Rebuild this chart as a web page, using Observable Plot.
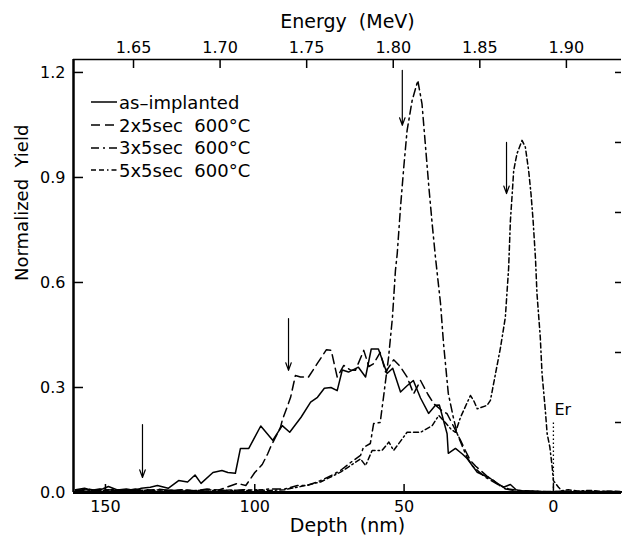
<!DOCTYPE html>
<html><head><meta charset="utf-8">
<script src="https://cdn.jsdelivr.net/npm/d3@7"></script>
<script src="https://cdn.jsdelivr.net/npm/@observablehq/plot@0.6"></script>
<style>
body{margin:0;background:#fff;}
#wrap{position:relative;width:622px;height:537px;font-family:"DejaVu Sans",sans-serif;}
#legend{position:absolute;left:91px;top:91px;font-size:18px;color:#000;}
.row{display:flex;align-items:center;height:22.7px;white-space:pre;}
.row svg{margin-right:2px;display:block;}
</style></head>
<body><div id="wrap"><div id="chart"></div><div id="legend"></div></div>
<script>
// ---- data (depth in nm, normalized yield) ----
const asImplanted = [[160,0.008],[157,0.012],[154,0.005],[151,0.01],[149,0.017],[146,0.007],[143,0.01],[140,0.006],[138,0.012],[135,0.015],[132.6,0.02],[129,0.012],[125.5,0.034],[122.5,0.03],[120,0.05],[118,0.026],[114,0.057],[111,0.063],[109,0.057],[106.5,0.055],[104.8,0.126],[102,0.126],[98,0.19],[94,0.149],[90.8,0.191],[88.3,0.172],[84.5,0.215],[81.3,0.258],[79,0.272],[76.7,0.298],[74.5,0.30],[72.4,0.291],[70.7,0.35],[68.6,0.344],[65.3,0.358],[62.9,0.33],[61,0.41],[58.6,0.41],[55.7,0.34],[53.8,0.355],[51.2,0.287],[49,0.305],[46.9,0.32],[44.5,0.27],[41.8,0.226],[39.5,0.249],[38.2,0.25],[35.6,0.168],[35.2,0.112],[32.8,0.126],[30.5,0.11],[28.9,0.097],[27,0.075],[25.5,0.058],[23,0.048],[21.1,0.04],[18.5,0.025],[16.7,0.015],[14.4,0.023],[12.5,0.008],[11,0.005],[8,0.004],[5,0.003],[2,0.002],[0,0.002],[-3,0.004],[-6,0.002],[-10,0.003],[-14,0.002],[-18,0.003],[-22.8,0.002]];
const anneal2x5 = [[160,0.005],[156,0.01],[152,0.004],[148,0.008],[144,0.005],[140,0.01],[136,0.006],[132,0.009],[128,0.005],[124,0.008],[120,0.005],[116,0.01],[112,0.007],[108.5,0.018],[105.8,0.026],[103,0.02],[100,0.057],[97.5,0.08],[95.7,0.11],[94.7,0.13],[91.4,0.186],[90.8,0.206],[88,0.272],[86.4,0.334],[84.7,0.33],[82,0.33],[79.1,0.368],[76,0.408],[74.4,0.406],[72.4,0.33],[70.2,0.363],[68,0.35],[66.3,0.349],[63.5,0.406],[61.8,0.36],[60.2,0.368],[58,0.40],[56.2,0.344],[53.5,0.379],[51.3,0.36],[49,0.33],[46.8,0.282],[44.5,0.32],[42,0.28],[40,0.253],[37.5,0.235],[35.6,0.225],[33.5,0.19],[31.1,0.149],[29.5,0.12],[27.8,0.091],[26,0.075],[24.4,0.063],[22,0.045],[20,0.034],[18,0.02],[16,0.01],[13,0.006],[10,0.004],[5,0.003],[0,0.002],[-5,0.003],[-10,0.002],[-16,0.003],[-22.8,0.002]];
const anneal3x5 = [[160,0.008],[156,0.004],[152,0.01],[148,0.005],[144,0.008],[140,0.004],[136,0.008],[132,0.004],[128,0.007],[124,0.004],[120,0.006],[116,0.004],[112,0.007],[108,0.005],[104,0.008],[100,0.006],[95,0.01],[90,0.01],[85.7,0.02],[82.4,0.02],[78,0.034],[74,0.05],[71.3,0.063],[68,0.085],[64.6,0.106],[63.6,0.129],[61.3,0.14],[60.2,0.197],[58,0.2],[56.9,0.272],[55.2,0.386],[53.9,0.5],[52.9,0.634],[52.3,0.682],[51.2,0.815],[50.1,0.93],[49,1.034],[47.3,1.12],[45.4,1.177],[44,1.11],[42.9,0.996],[41.7,0.872],[40.6,0.768],[39.5,0.672],[37.8,0.54],[36.8,0.426],[35.2,0.283],[33.5,0.214],[32.2,0.168],[30.6,0.134],[28.9,0.1],[27,0.075],[25,0.06],[23,0.045],[21,0.035],[18,0.02],[15,0.01],[12,0.006],[8,0.004],[4,0.003],[0,0.003],[-5,0.002],[-10,0.003],[-16,0.002],[-22.8,0.002]];
const anneal5x5 = [[160,0.005],[156,0.008],[152,0.005],[148,0.009],[144,0.004],[140,0.007],[136,0.005],[132,0.008],[128,0.004],[124,0.007],[120,0.005],[116,0.008],[112,0.005],[108,0.007],[104,0.005],[100,0.008],[95,0.006],[90,0.008],[84.7,0.017],[78,0.03],[71.3,0.058],[64.6,0.096],[62.9,0.077],[60.7,0.12],[57.4,0.12],[55.1,0.144],[53.5,0.12],[49,0.172],[44.5,0.172],[40.6,0.191],[38.4,0.22],[36.2,0.2],[34.2,0.18],[32.8,0.172],[31.1,0.215],[27.8,0.277],[26.7,0.263],[25.5,0.239],[22.2,0.249],[21.1,0.263],[19.4,0.339],[17.7,0.415],[16.1,0.5],[15,0.64],[14.4,0.777],[13.8,0.853],[13.3,0.92],[12.2,0.968],[10.5,1.006],[9.4,0.987],[8.3,0.92],[7.5,0.853],[6.8,0.777],[6,0.668],[5.5,0.568],[4.4,0.444],[3.8,0.339],[2.7,0.234],[2.1,0.168],[1.2,0.13],[0.4,0.072],[0,0.034],[-1.7,0.015],[-2.8,0.005],[-5,0.008],[-8,0.004],[-12,0.006],[-16,0.003],[-20,0.004],[-22.8,0.003]];

const seriesNames = ["as–implanted", "2x5sec  600°C", "3x5sec  600°C", "5x5sec  600°C"];
const seriesDash = [null, "9,5", "8,4,2,4", "5,3,5,3,1.5,3"];
const seriesData = [asImplanted, anneal2x5, anneal3x5, anneal5x5];

// axes
const depthTicks = [150, 100, 50, 0];
const depthDomain = [160.7, -22.8];
const yTicksLeft = [0, 0.3, 0.6, 0.9, 1.2];
const yTicksRight = [0, 0.2, 0.4, 0.6, 0.8, 1.0, 1.2];
const yDomain = [0, 1.237];
const energyTicks = [1.65, 1.70, 1.75, 1.80, 1.85, 1.90];
const energyAtSurface = 1.8925;   // MeV at depth 0
const energyPerNm = 0.0017247;    // MeV per nm
const depthOf = e => (energyAtSurface - e) / energyPerNm;
const energyOf = d => energyAtSurface - d * energyPerNm;

// annotations
const arrowDepth = [137.6, 88.7, 50.6, 15.7];
const arrowFrom = [0.194, 0.497, 1.206, 1.0];
const arrowTo = [0.043, 0.349, 1.049, 0.854];
const erDepth = 0, erTop = 0.206, erLabelY = 0.237;

const W = 622, H = 537, mL = 73, mR = 1, mT = 59, mB = 45;
const fw = W - mL - mR, fh = H - mT - mB;

const marks = [
  // frame lines
  Plot.ruleY([yDomain[0]], {stroke: "#000", strokeWidth: 3}),
  Plot.ruleY([yDomain[1]], {stroke: "#000", strokeWidth: 1.5}),
  Plot.ruleX([depthDomain[0]], {stroke: "#000", strokeWidth: 2.5}),
  // inward ticks
  Plot.ruleX(depthTicks, {insetTop: fh - 8, stroke: "#000", strokeWidth: 1.5}),
  Plot.ruleX(energyTicks.map(depthOf), {insetBottom: fh - 9, stroke: "#000", strokeWidth: 1.5}),
  Plot.ruleY(yTicksLeft, {insetRight: fw - 10, stroke: "#000", strokeWidth: 1.5}),
  Plot.ruleY(yTicksRight, {insetLeft: fw - 6, stroke: "#000", strokeWidth: 1.5}),
  // tick labels
  Plot.axisX(depthTicks, {anchor: "bottom", tickSize: 0, tickPadding: 8, fontSize: 16, label: null, fill: "#000"}),
  Plot.axisX(energyTicks.map(depthOf), {anchor: "top", tickSize: 0, tickPadding: 7, fontSize: 16, label: null, fill: "#000",
    tickFormat: d => energyOf(d).toFixed(2)}),
  Plot.axisY(yTicksLeft, {anchor: "left", tickSize: 0, tickPadding: 8, fontSize: 16, label: null, fill: "#000", tickFormat: d3.format(".1f")}),
  // titles
  Plot.text(["Energy  (MeV)"], {text: d => d, frameAnchor: "top", dy: -32, lineAnchor: "bottom", fontSize: 19, fill: "#000"}),
  Plot.text(["Depth  (nm)"], {text: d => d, frameAnchor: "bottom", dy: 39, lineAnchor: "bottom", fontSize: 19, fill: "#000"}),
  Plot.text(["Normalized  Yield"], {text: d => d, frameAnchor: "left", dx: -51, dy: 5, rotate: -90, fontSize: 18, fill: "#000"}),
  // curves
  ...seriesData.map((pts, i) => Plot.line(pts, {x: d => d[0], y: d => d[1], stroke: "#000",
    strokeWidth: 1.5, strokeDasharray: seriesDash[i], curve: "linear"})),
  // arrows
  Plot.arrow(arrowDepth, {x1: d => d, x2: d => d, y1: (d, i) => arrowFrom[i], y2: (d, i) => arrowTo[i],
    stroke: "#000", strokeWidth: 1.2, headLength: 10, headAngle: 40}),
  // Er marker
  Plot.ruleX([erDepth], {y1: 0, y2: erTop, stroke: "#000", strokeWidth: 1.3, strokeDasharray: "1.5,2.5"}),
  Plot.text(["Er"], {text: d => d, x: erDepth, y: erLabelY, textAnchor: "start", dx: 1, fontSize: 16, fill: "#000"})
];

const chart = Plot.plot({
  width: W, height: H,
  marginLeft: mL, marginRight: mR, marginTop: mT, marginBottom: mB,
  x: {domain: depthDomain},
  y: {domain: yDomain},
  style: {fontFamily: "DejaVu Sans", fontSize: "16px", background: "#fff", color: "#000"},
  marks
});
document.getElementById("chart").appendChild(chart);

// legend overlay
const legend = document.getElementById("legend");
seriesNames.forEach((name, i) => {
  const row = document.createElement("div");
  row.className = "row";
  const dash = seriesDash[i] ? ` stroke-dasharray="${seriesDash[i]}"` : "";
  row.innerHTML = `<svg width="26" height="10"><line x1="0" y1="5" x2="26" y2="5" stroke="#000" stroke-width="1.5"${dash}/></svg><span>${name}</span>`;
  legend.appendChild(row);
});
</script>
</body></html>
